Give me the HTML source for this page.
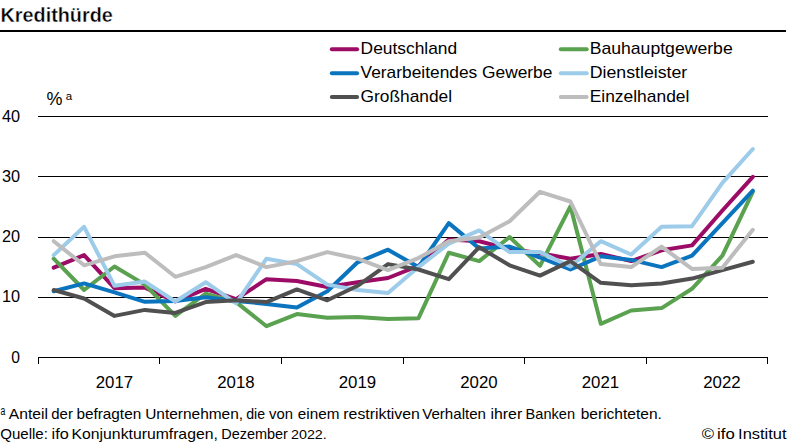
<!DOCTYPE html>
<html><head><meta charset="utf-8"><title>Kredithürde</title>
<style>
html,body{margin:0;padding:0;background:#fff;}
body{width:787px;height:443px;overflow:hidden;}
svg{display:block;}
text{font-family:"Liberation Sans",sans-serif;fill:#000;}
.ln{fill:none;stroke-width:4;stroke-linejoin:round;stroke-linecap:round;}
.g{stroke:#000;stroke-width:1;shape-rendering:crispEdges;}
</style></head><body>
<svg width="787" height="443" viewBox="0 0 787 443">
<rect width="787" height="443" fill="#fff"/>
<text x="0.5" y="22.0" font-size="19.3" font-weight="bold" stroke="#fff" stroke-width="0.35" textLength="112.3" lengthAdjust="spacingAndGlyphs">Kredithürde</text>
<rect x="0" y="30" width="786" height="2" fill="#000"/>
<line class="g" x1="38" x2="768" y1="116.5" y2="116.5"/>
<line class="g" x1="38" x2="768" y1="176.5" y2="176.5"/>
<line class="g" x1="38" x2="768" y1="237.5" y2="237.5"/>
<line class="g" x1="38" x2="768" y1="297.5" y2="297.5"/>
<line class="g" x1="38" x2="768" y1="357.5" y2="357.5"/>
<line class="g" x1="38.5" x2="38.5" y1="357" y2="364"/>
<line class="g" x1="159.5" x2="159.5" y1="357" y2="364"/>
<line class="g" x1="281.5" x2="281.5" y1="357" y2="364"/>
<line class="g" x1="403.5" x2="403.5" y1="357" y2="364"/>
<line class="g" x1="524.5" x2="524.5" y1="357" y2="364"/>
<line class="g" x1="646.5" x2="646.5" y1="357" y2="364"/>
<line class="g" x1="767.5" x2="767.5" y1="357" y2="364"/>
<text x="20" y="362.9" font-size="16" text-anchor="end" textLength="8.7" lengthAdjust="spacingAndGlyphs">0</text>
<text x="20" y="301.8" font-size="16" text-anchor="end" textLength="18.1" lengthAdjust="spacingAndGlyphs">10</text>
<text x="20" y="241.8" font-size="16" text-anchor="end" textLength="18.1" lengthAdjust="spacingAndGlyphs">20</text>
<text x="20" y="181.8" font-size="16" text-anchor="end" textLength="18.1" lengthAdjust="spacingAndGlyphs">30</text>
<text x="20" y="121.8" font-size="16" text-anchor="end" textLength="18.1" lengthAdjust="spacingAndGlyphs">40</text>
<text x="46.6" y="105.0" font-size="17.6" textLength="16.0" lengthAdjust="spacingAndGlyphs">%</text>
<text x="65.8" y="99.9" font-size="11" textLength="6.4" lengthAdjust="spacingAndGlyphs">a</text>
<text x="114.4" y="387.7" font-size="16.3" text-anchor="middle" textLength="37.4" lengthAdjust="spacingAndGlyphs">2017</text>
<text x="235.9" y="387.7" font-size="16.3" text-anchor="middle" textLength="37.4" lengthAdjust="spacingAndGlyphs">2018</text>
<text x="357.4" y="387.7" font-size="16.3" text-anchor="middle" textLength="37.4" lengthAdjust="spacingAndGlyphs">2019</text>
<text x="478.9" y="387.7" font-size="16.3" text-anchor="middle" textLength="37.4" lengthAdjust="spacingAndGlyphs">2020</text>
<text x="600.4" y="387.7" font-size="16.3" text-anchor="middle" textLength="37.4" lengthAdjust="spacingAndGlyphs">2021</text>
<text x="721.9" y="387.7" font-size="16.3" text-anchor="middle" textLength="37.4" lengthAdjust="spacingAndGlyphs">2022</text>
<polyline class="ln" stroke="#9C0C66" points="53.7,267.7 84.1,255.1 114.5,288.2 144.9,287.6 175.3,301.5 205.7,288.8 236.1,299.1 266.5,279.2 296.9,281.0 327.3,287.0 357.6,282.2 388.0,278.0 418.4,265.9 448.8,239.4 479.2,241.2 509.6,249.1 540.0,253.3 570.4,258.7 600.8,253.9 631.2,261.1 661.6,250.3 692.0,245.4 722.4,210.5 752.8,176.8"/>
<polyline class="ln" stroke="#5AA150" points="53.7,258.7 84.1,290.0 114.5,266.5 144.9,284.6 175.3,315.9 205.7,293.6 236.1,302.1 266.5,326.2 296.9,314.1 327.3,317.7 357.6,317.1 388.0,318.9 418.4,318.3 448.8,252.7 479.2,261.1 509.6,237.0 540.0,265.9 570.4,206.3 600.8,323.8 631.2,310.5 661.6,308.1 692.0,288.8 722.4,255.7 752.8,191.8"/>
<polyline class="ln" stroke="#0B74BF" points="53.7,291.2 84.1,283.4 114.5,292.4 144.9,301.8 175.3,300.9 205.7,297.2 236.1,300.9 266.5,303.9 296.9,307.5 327.3,291.2 357.6,262.3 388.0,249.7 418.4,267.1 448.8,223.1 479.2,248.4 509.6,246.6 540.0,257.5 570.4,269.5 600.8,256.3 631.2,259.9 661.6,267.1 692.0,255.7 722.4,223.1 752.8,190.6"/>
<polyline class="ln" stroke="#9DCBEA" points="53.7,255.1 84.1,226.8 114.5,285.8 144.9,281.6 175.3,301.5 205.7,282.2 236.1,303.3 266.5,258.7 296.9,264.1 327.3,284.6 357.6,290.0 388.0,293.0 418.4,267.1 448.8,243.6 479.2,230.4 509.6,252.1 540.0,252.1 570.4,266.5 600.8,241.2 631.2,254.5 661.6,226.8 692.0,226.2 722.4,182.8 752.8,149.0"/>
<polyline class="ln" stroke="#505050" points="53.7,290.0 84.1,298.5 114.5,315.9 144.9,309.9 175.3,312.9 205.7,302.1 236.1,300.3 266.5,302.1 296.9,289.4 327.3,300.3 357.6,285.8 388.0,264.1 418.4,269.5 448.8,279.2 479.2,247.2 509.6,265.3 540.0,275.6 570.4,261.1 600.8,282.8 631.2,285.2 661.6,283.4 692.0,278.6 722.4,270.1 752.8,261.7"/>
<polyline class="ln" stroke="#BDBDBD" points="53.7,241.2 84.1,265.3 114.5,256.3 144.9,252.7 175.3,276.8 205.7,267.1 236.1,255.1 266.5,267.1 296.9,261.1 327.3,252.1 357.6,258.7 388.0,270.1 418.4,258.1 448.8,241.2 479.2,237.6 509.6,221.3 540.0,191.8 570.4,201.5 600.8,264.1 631.2,267.1 661.6,246.6 692.0,268.9 722.4,267.7 752.8,229.8"/>
<line class="ln" stroke="#9C0C66" x1="331.8" x2="357.1" y1="49.25" y2="49.25"/>
<text x="360.6" y="54.1" font-size="17" textLength="96.6" lengthAdjust="spacingAndGlyphs">Deutschland</text>
<line class="ln" stroke="#0B74BF" x1="331.8" x2="357.1" y1="73.2" y2="73.2"/>
<text x="360.6" y="78.1" font-size="17" textLength="191.8" lengthAdjust="spacingAndGlyphs">Verarbeitendes Gewerbe</text>
<line class="ln" stroke="#505050" x1="331.8" x2="357.1" y1="97.1" y2="97.1"/>
<text x="360.6" y="102.0" font-size="17" textLength="91.5" lengthAdjust="spacingAndGlyphs">Großhandel</text>
<line class="ln" stroke="#5AA150" x1="560.8" x2="586.6999999999999" y1="49.25" y2="49.25"/>
<text x="589.7" y="54.1" font-size="17" textLength="143.0" lengthAdjust="spacingAndGlyphs">Bauhauptgewerbe</text>
<line class="ln" stroke="#9DCBEA" x1="560.8" x2="586.6999999999999" y1="73.2" y2="73.2"/>
<text x="589.7" y="78.1" font-size="17" textLength="97.6" lengthAdjust="spacingAndGlyphs">Dienstleister</text>
<line class="ln" stroke="#BDBDBD" x1="560.8" x2="586.6999999999999" y1="97.1" y2="97.1"/>
<text x="589.7" y="102.0" font-size="17" textLength="99.7" lengthAdjust="spacingAndGlyphs">Einzelhandel</text>
<text x="0.5" y="414.6" font-size="12.5" textLength="4.8" lengthAdjust="spacingAndGlyphs">a</text>
<text x="8.80" y="418.7" font-size="14.2" textLength="39.10" lengthAdjust="spacingAndGlyphs">Anteil</text>
<text x="51.30" y="418.7" font-size="14.2" textLength="21.60" lengthAdjust="spacingAndGlyphs">der</text>
<text x="76.40" y="418.7" font-size="14.2" textLength="64.80" lengthAdjust="spacingAndGlyphs">befragten</text>
<text x="145.20" y="418.7" font-size="14.2" textLength="97.90" lengthAdjust="spacingAndGlyphs">Unternehmen,</text>
<text x="246.20" y="418.7" font-size="14.2" textLength="18.90" lengthAdjust="spacingAndGlyphs">die</text>
<text x="269.10" y="418.7" font-size="14.2" textLength="23.90" lengthAdjust="spacingAndGlyphs">von</text>
<text x="297.80" y="418.7" font-size="14.2" textLength="41.60" lengthAdjust="spacingAndGlyphs">einem</text>
<text x="343.30" y="418.7" font-size="14.2" textLength="76.60" lengthAdjust="spacingAndGlyphs">restriktiven</text>
<text x="422.20" y="418.7" font-size="14.2" textLength="63.80" lengthAdjust="spacingAndGlyphs">Verhalten</text>
<text x="490.50" y="418.7" font-size="14.2" textLength="31.70" lengthAdjust="spacingAndGlyphs">ihrer</text>
<text x="525.60" y="418.7" font-size="14.2" textLength="49.40" lengthAdjust="spacingAndGlyphs">Banken</text>
<text x="580.70" y="418.7" font-size="14.2" textLength="81.20" lengthAdjust="spacingAndGlyphs">berichteten.</text>
<text x="0.20" y="439.0" font-size="14.2" textLength="47.70" lengthAdjust="spacingAndGlyphs">Quelle:</text>
<text x="51.60" y="439.0" font-size="14.2" textLength="17.20" lengthAdjust="spacingAndGlyphs">ifo</text>
<text x="71.60" y="439.0" font-size="14.2" textLength="146.20" lengthAdjust="spacingAndGlyphs">Konjunkturumfragen,</text>
<text x="221.20" y="439.0" font-size="14.2" textLength="66.70" lengthAdjust="spacingAndGlyphs">Dezember</text>
<text x="291.00" y="439.0" font-size="13.3" textLength="35.80" lengthAdjust="spacingAndGlyphs">2022.</text>
<text x="701.80" y="439.0" font-size="14.2" textLength="12.30" lengthAdjust="spacingAndGlyphs">©</text>
<text x="717.00" y="439.0" font-size="14.2" textLength="17.70" lengthAdjust="spacingAndGlyphs">ifo</text>
<text x="738.10" y="439.0" font-size="14.2" textLength="48.40" lengthAdjust="spacingAndGlyphs">Institut</text>
</svg>
</body></html>
